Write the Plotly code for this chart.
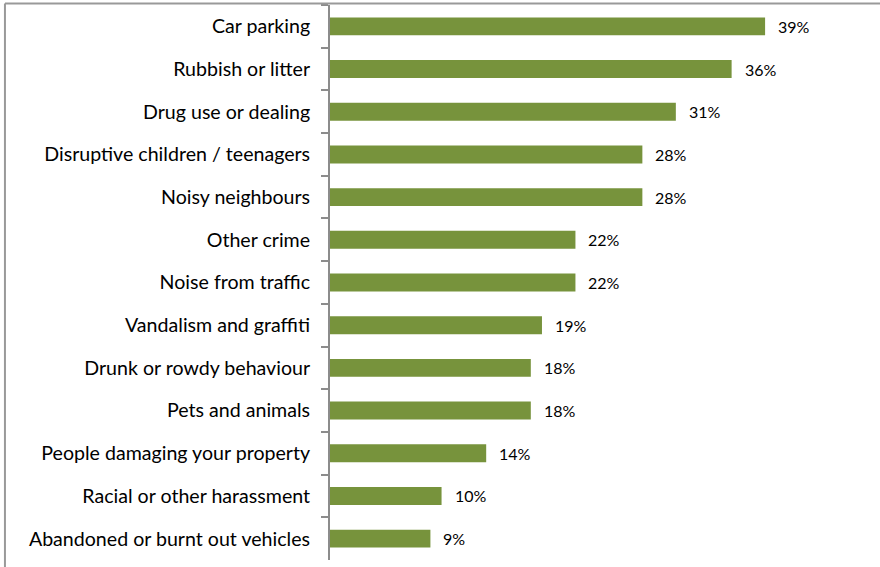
import plotly.graph_objects as go

# --- data ---
categories = [
    "Car parking",
    "Rubbish or litter",
    "Drug use or dealing",
    "Disruptive children / teenagers",
    "Noisy neighbours",
    "Other crime",
    "Noise from traffic",
    "Vandalism and graffiti",
    "Drunk or rowdy behaviour",
    "Pets and animals",
    "People damaging your property",
    "Racial or other harassment",
    "Abandoned or burnt out vehicles",
]
percent = [39, 36, 31, 28, 28, 22, 22, 19, 18, 18, 14, 10, 9]

BAR_GREEN = "#77933C"
GRID_GREY = "#8C8C8C"

fig = go.Figure(
    go.Bar(
        x=percent,
        y=categories,
        orientation="h",
        marker=dict(color=BAR_GREEN, line=dict(width=0)),
        hoverinfo="skip",
    )
)

# value labels, a little to the right of each bar end
for cat, v in zip(categories, percent):
    fig.add_annotation(x=v, y=cat, text=f"{v}%", showarrow=False,
                       xanchor="left", xshift=11,
                       font=dict(family="Lato", size=16, color="black"))

fig.update_layout(
    width=880,
    height=567,
    margin=dict(l=330, r=0, t=5, b=7),
    plot_bgcolor="white",
    paper_bgcolor="white",
    bargap=0.58,
    showlegend=False,
    font=dict(family="Lato", color="black"),
)

fig.update_xaxes(range=[0, 49.3], visible=False, showgrid=False)
fig.update_yaxes(
    categoryorder="array",
    categoryarray=categories,
    autorange="reversed",
    showline=True,
    linecolor=GRID_GREY,
    linewidth=2,
    ticks="outside",
    tickson="boundaries",
    ticklen=7,
    tickcolor=GRID_GREY,
    tickwidth=1.5,
    ticklabelstandoff=14,
    tickfont=dict(family="Lato", size=19.6, color="black"),
    showgrid=False,
)

# outer chart frame (left and top edges visible in the crop)
fig.add_shape(type="line", xref="paper", yref="paper",
              x0=-0.591, x1=1.01, y0=1.0027, y1=1.0027,
              line=dict(color="#999999", width=2))
fig.add_shape(type="line", xref="paper", yref="paper",
              x0=-0.591, x1=-0.591, y0=-0.02, y1=1.0027,
              line=dict(color="#999999", width=2))

fig.write_html(
    "out.html",
    config={"displayModeBar": False},
    post_script="document.body.style.margin='0';document.body.style.overflow='hidden';",
)
